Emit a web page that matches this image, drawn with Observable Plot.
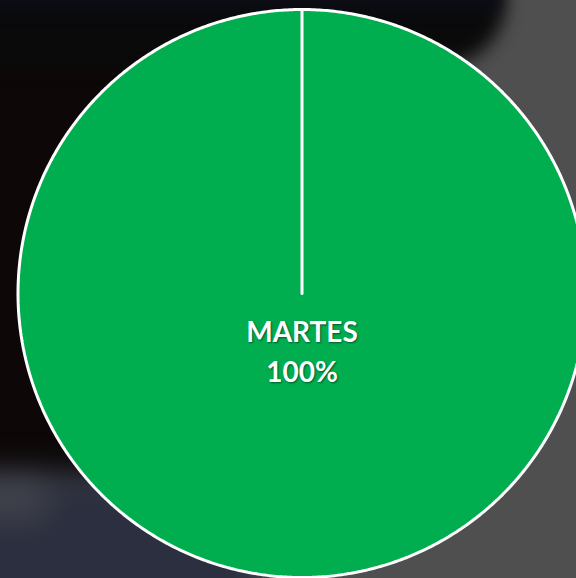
<!DOCTYPE html>
<html>
<head>
<meta charset="utf-8">
<script src="https://cdn.jsdelivr.net/npm/d3@7"></script>
<script src="https://cdn.jsdelivr.net/npm/@observablehq/plot@0.6"></script>
<style>
  html, body { margin: 0; padding: 0; width: 576px; height: 578px; overflow: hidden; }
  body { background: #4f4f4f; position: relative; }
  .bg { position: absolute; }
  #chart { position: absolute; left: 0; top: 0; z-index: 5; }
  #chart svg { overflow: visible; }
  #chart g[aria-label="text"] text { text-shadow: 1px 1px 2px rgba(0,0,0,0.5); }
</style>
</head>
<body>
<div class="bg" style="left:-60px;top:-60px;width:380px;height:545px;background:#0d0807;filter:blur(14px);"></div>
<div class="bg" style="left:-60px;top:-60px;width:565px;height:125px;background:#0a0a0b;border-radius:0 70px 70px 0;filter:blur(9px);"></div>
<div class="bg" style="left:-60px;top:-30px;width:560px;height:40px;background:#0c0e16;filter:blur(8px);"></div>
<div class="bg" style="left:-60px;top:475px;width:320px;height:160px;background:#2c2f3f;filter:blur(18px);"></div>
<div class="bg" style="left:-40px;top:480px;width:90px;height:40px;background:#4a4c52;border-radius:40px;filter:blur(16px);opacity:0.7;"></div>
<div id="chart"></div>
<script>
const categories = ["MARTES"];
const values = [100];

const total = d3.sum(values);
const arcs = d3.pie().sort(null)(values);

// slice outline points (unit circle, clockwise from 12 o'clock)
const slicePoints = [];
arcs.forEach((a, i) => {
  slicePoints.push({category: categories[i], x: 0, y: 0});
  const n = 720;
  for (let k = 0; k <= n; k++) {
    const t = a.startAngle + (a.endAngle - a.startAngle) * k / n;
    slicePoints.push({category: categories[i], x: Math.sin(t), y: Math.cos(t)});
  }
  slicePoints.push({category: categories[i], x: 0, y: 0});
});

const labels = arcs.map((a, i) => ({
  category: categories[i],
  x: 0,
  y: -0.195,
  text: `${categories[i]}\n${Math.round(values[i] / total * 100)}%`
}));

const chart = Plot.plot({
  width: 576,
  height: 578,
  margin: 0,
  style: {background: "transparent", overflow: "visible"},
  x: {domain: [-1, 1], range: [17.5, 585.5], axis: null},
  y: {domain: [-1, 1], range: [577, 9], axis: null},
  marks: [
    Plot.line(slicePoints, {
      x: "x", y: "y", z: "category",
      fill: "#00AE50", stroke: "white", strokeWidth: 3,
      strokeLinejoin: "miter", curve: "linear"
    }),
    Plot.text(labels, {
      x: "x", y: "y", text: "text",
      fill: "white", fontSize: 28, fontWeight: "bold",
      fontFamily: "Lato, 'Open Sans', sans-serif",
      lineHeight: 1.43
    })
  ]
});
document.getElementById("chart").appendChild(chart);
</script>
</body>
</html>
